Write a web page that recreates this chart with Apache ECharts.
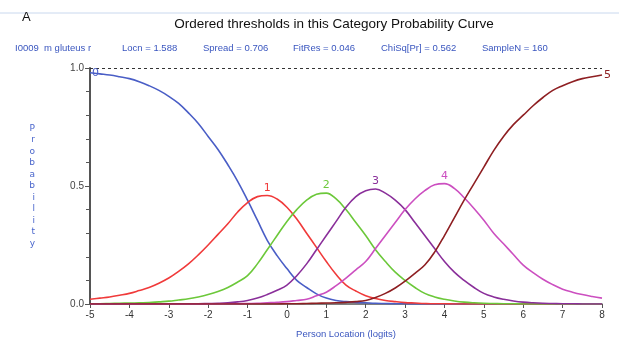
<!DOCTYPE html>
<html>
<head>
<meta charset="utf-8">
<script src="https://cdn.jsdelivr.net/npm/echarts@6/dist/echarts.min.js"></script>
<style>
  html, body { margin: 0; padding: 0; background: #fff; }
  #chart { width: 619px; height: 344px; }
</style>
</head>
<body>
<div id="chart"></div>
<script>
// person location (logits), every 0.25
var locations = [-5, -4.75, -4.5, -4.25, -4, -3.75, -3.5, -3.25, -3, -2.75, -2.5, -2.25, -2, -1.75, -1.5, -1.25, -1, -0.75, -0.5, -0.25,
  0, 0.25, 0.5, 0.75, 1, 1.25, 1.5, 1.75, 2, 2.25, 2.5, 2.75, 3, 3.25, 3.5, 3.75, 4, 4.25, 4.5, 4.75,
  5, 5.25, 5.5, 5.75, 6, 6.25, 6.5, 6.75, 7, 7.25, 7.5, 7.75, 8];
// category probabilities
var cat0 = [0.98, 0.975, 0.97, 0.963, 0.955, 0.942, 0.925, 0.905, 0.88, 0.85, 0.81, 0.765, 0.71, 0.655, 0.59, 0.52, 0.44, 0.355, 0.27, 0.205,
  0.15, 0.10, 0.07, 0.043, 0.025, 0.015, 0.01, 0.007, 0.005, 0.003, 0.002, 0.001, 0.001, 0, 0, 0, 0, 0, 0, 0,
  0, 0, 0, 0, 0, 0, 0, 0, 0, 0, 0, 0, 0];
var cat1 = [0.02, 0.025, 0.03, 0.037, 0.045, 0.057, 0.07, 0.088, 0.11, 0.138, 0.17, 0.208, 0.25, 0.295, 0.34, 0.39, 0.43, 0.455, 0.46, 0.445,
  0.41, 0.36, 0.30, 0.24, 0.18, 0.125, 0.08, 0.055, 0.035, 0.023, 0.015, 0.01, 0.006, 0.004, 0.002, 0.001, 0.001, 0, 0, 0,
  0, 0, 0, 0, 0, 0, 0, 0, 0, 0, 0, 0, 0];
var cat2 = [0.001, 0.001, 0.002, 0.003, 0.004, 0.005, 0.006, 0.009, 0.012, 0.017, 0.022, 0.03, 0.04, 0.053, 0.07, 0.093, 0.12, 0.17, 0.23, 0.29,
  0.35, 0.40, 0.44, 0.465, 0.47, 0.445, 0.40, 0.345, 0.29, 0.23, 0.18, 0.135, 0.10, 0.07, 0.045, 0.03, 0.02, 0.013, 0.008, 0.005,
  0.003, 0.002, 0.001, 0.001, 0, 0, 0, 0, 0, 0, 0, 0, 0];
var cat3 = [0, 0, 0, 0, 0, 0, 0, 0, 0, 0, 0.001, 0.001, 0.002, 0.003, 0.005, 0.009, 0.015, 0.025, 0.04, 0.058,
  0.08, 0.12, 0.17, 0.23, 0.29, 0.35, 0.41, 0.455, 0.48, 0.487, 0.47, 0.44, 0.40, 0.345, 0.29, 0.235, 0.18, 0.135, 0.10, 0.07,
  0.045, 0.03, 0.02, 0.013, 0.008, 0.005, 0.003, 0.002, 0.001, 0.001, 0, 0, 0];
var cat4 = [0, 0, 0, 0, 0, 0, 0, 0, 0, 0, 0, 0, 0, 0, 0.001, 0.001, 0.002, 0.003, 0.005, 0.007,
  0.01, 0.015, 0.02, 0.035, 0.05, 0.078, 0.11, 0.145, 0.18, 0.235, 0.29, 0.345, 0.40, 0.445, 0.48, 0.505, 0.51, 0.49, 0.45, 0.405,
  0.355, 0.30, 0.255, 0.21, 0.165, 0.133, 0.105, 0.082, 0.063, 0.05, 0.04, 0.032, 0.025];
var cat5 = [0, 0, 0, 0, 0, 0, 0, 0, 0, 0, 0, 0, 0, 0, 0, 0, 0, 0, 0, 0,
  0.001, 0.001, 0.002, 0.003, 0.004, 0.005, 0.007, 0.01, 0.015, 0.028, 0.045, 0.068, 0.097, 0.13, 0.165, 0.22, 0.29, 0.365, 0.44, 0.51,
  0.58, 0.65, 0.71, 0.76, 0.80, 0.84, 0.875, 0.905, 0.925, 0.942, 0.955, 0.963, 0.97];
var yTicks = ['0.0', '0.5', '1.0'];
var infoText = ['I0009  m gluteus r', 'Locn = 1.588', 'Spread = 0.706', 'FitRes = 0.046', 'ChiSq[Pr] = 0.562', 'SampleN = 160'];
var infoX = [15, 122, 203, 293, 381, 482];

var chart = echarts.init(document.getElementById('chart'));

function pairs(vals) {
  return locations.map(function (x, i) { return [x, vals[i]]; });
}

function curve(name, vals, color, labelPos) {
  return {
    name: name,
    type: 'line',
    smooth: 0.4,
    showSymbol: false,
    lineStyle: { color: color, width: 1.6 },
    itemStyle: { color: color },
    data: pairs(vals),
    markPoint: {
      symbolSize: 0,
      data: [{ type: 'max' }],
      label: {
        show: true,
        position: labelPos || 'top',
        distance: 2,
        color: color,
        fontSize: 11,
        fontFamily: 'DejaVu Sans',
        formatter: name
      }
    }
  };
}

var graphics = [
  { type: 'line', shape: { x1: 0, y1: 13, x2: 619, y2: 13 }, style: { stroke: '#c9d8ee', lineWidth: 1 } }
];
infoText.forEach(function (t, i) {
  graphics.push({ type: 'text', left: infoX[i], top: 43,
    style: { text: t, fill: '#3a56bf', font: '9.5px "Liberation Sans"' } });
});

var option = {
  animation: false,
  title: [
    { text: 'A', left: 17, top: 6, textStyle: { fontSize: 13, fontWeight: 'normal', color: '#111', fontFamily: 'Liberation Sans' } },
    { text: 'Ordered thresholds in this Category Probability Curve', left: 329, textAlign: 'center', top: 12,
      textStyle: { fontSize: 13.5, fontWeight: 'normal', color: '#111', fontFamily: 'Liberation Sans' } }
  ],
  graphic: graphics,
  grid: { left: 90, right: 17, top: 68, bottom: 38 },
  xAxis: {
    type: 'value', min: -5, max: 8, interval: 1,
    name: 'Person Location (logits)', nameLocation: 'middle', nameGap: 25,
    nameTextStyle: { color: '#3a56bf', fontSize: 9.5, fontFamily: 'Liberation Sans' },
    axisLine: { show: true, onZero: false, lineStyle: { color: '#555', width: 1.5 } },
    axisTick: { show: true, length: 4, lineStyle: { color: '#555' } },
    axisLabel: { color: '#333', fontSize: 10, margin: 6, fontFamily: 'Liberation Sans' },
    splitLine: { show: false }
  },
  yAxis: {
    type: 'value', min: 0, max: 1, interval: 0.5,
    name: 'P\nr\no\nb\na\nb\ni\nl\ni\nt\ny', nameLocation: 'middle', nameRotate: 0, nameGap: 55,
    nameTextStyle: { color: '#4a66cc', fontSize: 9, lineHeight: 11.5, fontFamily: 'DejaVu Sans' },
    axisLine: { show: true, onZero: false, lineStyle: { color: '#555', width: 2 } },
    axisTick: { show: true, length: 5, lineStyle: { color: '#555' } },
    minorTick: { show: true, splitNumber: 5, length: 4, lineStyle: { color: '#555' } },
    axisLabel: { color: '#444', fontSize: 10, margin: 6, fontFamily: 'Liberation Sans',
      formatter: function (v) { return yTicks[Math.round(v * 2)]; } },
    splitLine: { show: false }
  },
  series: [
    curve('0', cat0, '#4a5ec6', 'right'),
    curve('1', cat1, '#f03a3a'),
    curve('2', cat2, '#6cc83a'),
    curve('3', cat3, '#8a2f9a'),
    curve('4', cat4, '#cc4fc0'),
    curve('5', cat5, '#8e1f22', 'right'),
    {
      type: 'line', data: [], silent: true,
      markLine: {
        symbol: 'none', silent: true, label: { show: false },
        lineStyle: { color: '#333', type: [3, 3], width: 1 },
        data: [{ yAxis: 1 }]
      }
    }
  ]
};

chart.setOption(option);
</script>
</body>
</html>
